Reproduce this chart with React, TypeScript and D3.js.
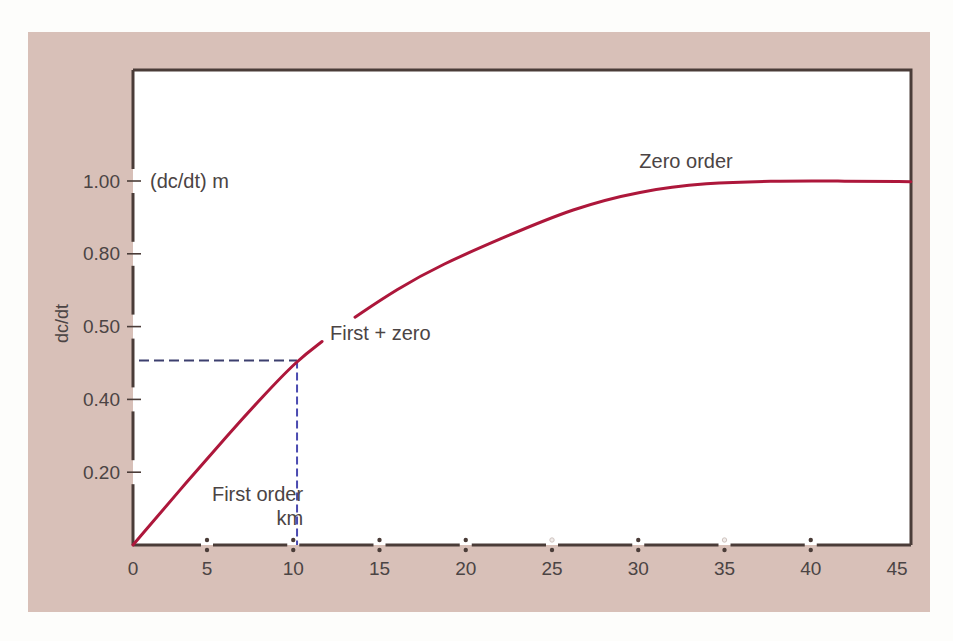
import { useEffect, useRef } from "react";
import * as d3 from "d3";

// values
const xTicks = [0, 5, 10, 15, 20, 25, 30, 35, 40, 45];
const xBreakTicks = [5, 10, 15, 20, 25, 30, 35, 40];
const xHollowTicks = [25, 35];
const yTickValues = [0.2, 0.4, 0.6, 0.8, 1.0];
const yTickLabels = ["0.20", "0.40", "0.50", "0.80", "1.00"];

// curve, split where the "First + zero" label interrupts it
const curveLower: [number, number][] = [
  [0, 0], [3.18, 0.152], [6.33, 0.309], [8.25, 0.409], [10.22, 0.507], [11.67, 0.559],
];
const curveUpper: [number, number][] = [
  [13.58, 0.626], [16.01, 0.703], [18.51, 0.769], [22.39, 0.849], [26.22, 0.925],
  [30.1, 0.973], [33.99, 0.995], [37.64, 1.0], [41.5, 1.0], [45.8, 0.998],
];

const halfPoint: [number, number] = [10.22, 0.507];

const W = 953;
const H = 641;
const frame = { left: 133, right: 911, top: 70, bottom: 545 };
const ink = "#4a3c38";
const textColor = "#4b4444";
const font = "'Liberation Sans', Arial, Helvetica, sans-serif";

export default function App() {
  const svgRef = useRef<SVGSVGElement>(null);

  useEffect(() => {
    if (!svgRef.current) return;
    const svg = d3.select(svgRef.current);
    svg.selectAll("*").remove();

    // the original axis is not evenly spaced between 0 and 5
    const x = d3.scaleLinear().domain([0, 5, 45]).range([frame.left, 207, 897]);
    const y = d3.scaleLinear().domain([0, 1]).range([frame.bottom, 181]);

    // page + pink panel
    svg.append("rect").attr("width", W).attr("height", H).attr("fill", "#fdfdfb");
    svg.append("rect")
      .attr("x", 28).attr("y", 32).attr("width", 902).attr("height", 580)
      .attr("fill", "#d8c0b8");
    svg.append("rect")
      .attr("x", frame.left).attr("y", frame.top)
      .attr("width", frame.right - frame.left).attr("height", frame.bottom - frame.top)
      .attr("fill", "#ffffff");

    // top and right borders
    svg.append("path")
      .attr("d", `M${frame.left},${frame.top}H${frame.right}V${frame.bottom}`)
      .attr("fill", "none").attr("stroke", ink).attr("stroke-width", 3);

    // y axis: broken line with a short tick in each gap
    const yGap = 12;
    const yStops = [frame.bottom, ...yTickValues.map(v => y(v))];
    yStops.forEach((s, i) => {
      const from = i === 0 ? s : s - yGap;
      const to = i + 1 < yStops.length ? yStops[i + 1] + yGap : frame.top;
      svg.append("line")
        .attr("x1", frame.left).attr("x2", frame.left)
        .attr("y1", from).attr("y2", to)
        .attr("stroke", ink).attr("stroke-width", 3);
    });
    const yTicks = svg.append("g");
    yTickValues.forEach((v, i) => {
      yTicks.append("line")
        .attr("x1", frame.left - 6).attr("x2", frame.left + 8)
        .attr("y1", y(v)).attr("y2", y(v))
        .attr("stroke", ink).attr("stroke-width", 1.6);
      yTicks.append("text")
        .attr("x", frame.left - 13).attr("y", y(v))
        .attr("text-anchor", "end").attr("dominant-baseline", "central")
        .attr("font-family", font).attr("font-size", 19).attr("fill", textColor)
        .text(yTickLabels[i]);
    });

    // x axis: broken line with two dots in each gap
    const xGap = 6;
    const xStops = [frame.left, ...xBreakTicks.map(v => x(v))];
    xStops.forEach((s, i) => {
      const from = i === 0 ? s : s + xGap;
      const to = i + 1 < xStops.length ? xStops[i + 1] - xGap : frame.right;
      svg.append("line")
        .attr("x1", from).attr("x2", to)
        .attr("y1", frame.bottom).attr("y2", frame.bottom)
        .attr("stroke", ink).attr("stroke-width", 3);
    });
    xBreakTicks.forEach(v => {
      const hollow = xHollowTicks.includes(v);
      svg.append("circle")
        .attr("cx", x(v)).attr("cy", frame.bottom - 5).attr("r", 2.2)
        .attr("fill", hollow ? "#f1ecea" : ink)
        .attr("stroke", hollow ? "#cfc4c0" : "none");
      svg.append("circle")
        .attr("cx", x(v)).attr("cy", frame.bottom + 5).attr("r", 2.2)
        .attr("fill", ink);
    });
    xTicks.forEach(v => {
      svg.append("text")
        .attr("x", x(v)).attr("y", frame.bottom + 23)
        .attr("text-anchor", "middle").attr("dominant-baseline", "central")
        .attr("font-family", font).attr("font-size", 19).attr("fill", textColor)
        .text(v);
    });

    // y axis title
    svg.append("text")
      .attr("transform", `translate(62,${y(0.6) - 3}) rotate(-90)`)
      .attr("text-anchor", "middle").attr("dominant-baseline", "central")
      .attr("font-family", font).attr("font-size", 18).attr("fill", textColor)
      .text("dc/dt");

    // dashed guides at the half-maximum point
    svg.append("line")
      .attr("x1", frame.left + 6).attr("x2", x(halfPoint[0]))
      .attr("y1", y(halfPoint[1])).attr("y2", y(halfPoint[1]))
      .attr("stroke", "#3c3f6e").attr("stroke-width", 2)
      .attr("stroke-dasharray", "10,5");
    svg.append("line")
      .attr("x1", x(halfPoint[0])).attr("x2", x(halfPoint[0]))
      .attr("y1", y(halfPoint[1])).attr("y2", frame.bottom)
      .attr("stroke", "#4a4ab0").attr("stroke-width", 2)
      .attr("stroke-dasharray", "8,4");

    // the curve
    const line = d3.line<[number, number]>()
      .x(d => x(d[0]))
      .y(d => y(d[1]))
      .curve(d3.curveBasis);
    [curveLower, curveUpper].forEach(part => {
      svg.append("path")
        .datum(part)
        .attr("fill", "none")
        .attr("stroke", "#ad173b")
        .attr("stroke-width", 3)
        .attr("stroke-linecap", "round")
        .attr("d", line);
    });

    // annotations
    const note = (tx: number, ty: number, label: string, anchor = "start") =>
      svg.append("text")
        .attr("x", tx).attr("y", ty)
        .attr("text-anchor", anchor).attr("dominant-baseline", "central")
        .attr("font-family", font).attr("font-size", 20).attr("fill", textColor)
        .text(label);

    note(frame.left + 17, y(1), "(dc/dt) m");
    note(x(32.77), y(1.055), "Zero order", "middle");
    note(x(12.13), y(0.582), "First + zero");
    note(x(10.57), y(0.14), "First order", "end");
    note(x(10.57), y(0.074), "km", "end");
  }, []);

  return (
    <svg
      ref={svgRef}
      width={W}
      height={H}
      viewBox={`0 0 ${W} ${H}`}
      style={{ position: "absolute", left: 0, top: 0 }}
    />
  );
}
